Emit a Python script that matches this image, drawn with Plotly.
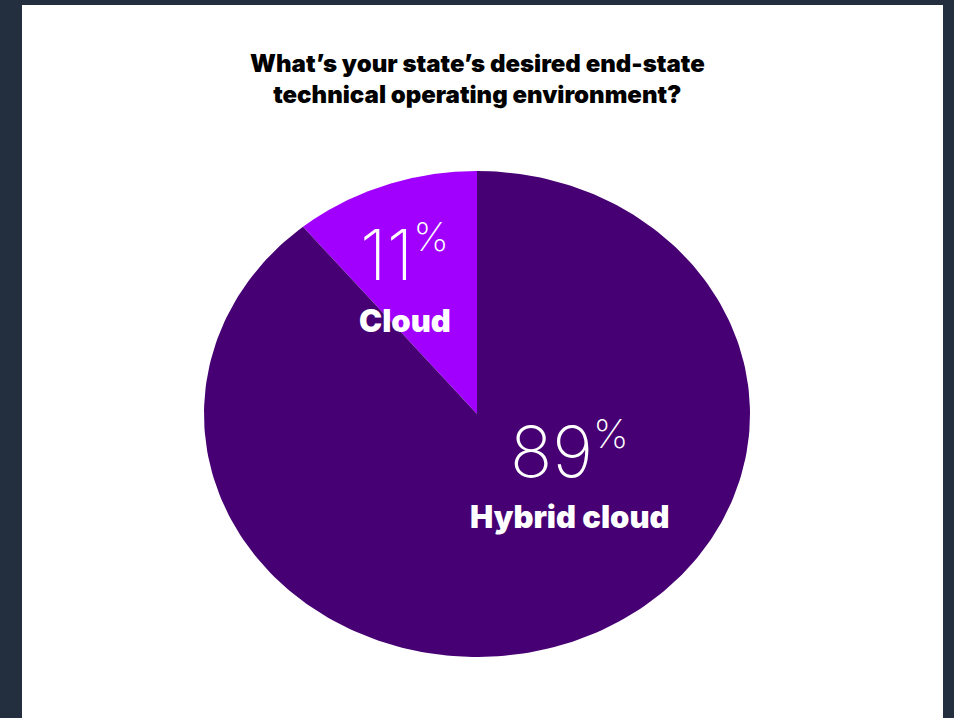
import numpy as np
import plotly.graph_objects as go

# Survey answers
segments = ["Cloud", "Hybrid cloud"]
shares = [11, 89]
colors = ["#A100FF", "#460073"]
title = "What’s your state’s desired end-state<br>technical operating environment?"

W, H = 954, 718
CX, CY, RX, RY = 477, 414, 273, 243  # pie centre and radii in pixels

fig = go.Figure()

# Wedges start at 12 o'clock and run counter-clockwise
start = 0.0
total = sum(shares)
for name, share, col in zip(segments, shares, colors):
    sweep = 360.0 * share / total
    ang = np.radians(np.linspace(start, start + sweep, 240))
    xs = np.concatenate([[0.0], -np.sin(ang), [0.0]])
    ys = np.concatenate([[0.0], np.cos(ang), [0.0]])
    fig.add_trace(go.Scatter(x=xs, y=ys, fill="toself", fillcolor=col,
                             mode="lines", line=dict(width=0, color=col),
                             name=name, hoverinfo="name", showlegend=False))
    start += sweep

# Label placement (axis units)
label_pos = {"Cloud": (-0.264, 0.655, 0.385), "Hybrid cloud": (0.34, -0.155, -0.42)}
for name, share in zip(segments, shares):
    x, yv, yn = label_pos[name]
    fig.add_annotation(x=x, y=yv, xref="x", yref="y", showarrow=False,
                       text=f"{share}<sup><span style='font-size:40px'>%</span></sup>",
                       font=dict(family="Inter", size=70, color="white", weight=200))
    fig.add_annotation(x=x, y=yn, xref="x", yref="y", showarrow=False,
                       text=name,
                       font=dict(family="Inter", size=31, color="white", weight=900))

fig.add_annotation(x=0.5, y=1 - 79 / H, xref="paper", yref="paper", showarrow=False,
                   text=title, align="center", yanchor="middle",
                   font=dict(family="Inter", size=24, color="#000000", weight=900))

# White card on the dark frame
fig.add_shape(type="rect", xref="paper", yref="paper",
              x0=22 / W, x1=943 / W, y0=0, y1=1 - 5 / H,
              fillcolor="white", line=dict(width=0), layer="below")

fig.update_xaxes(range=[-CX / RX, (W - CX) / RX], visible=False, fixedrange=True)
fig.update_yaxes(range=[-(H - CY) / RY, CY / RY], visible=False, fixedrange=True)
fig.update_layout(width=W, height=H, margin=dict(l=0, r=0, t=0, b=0),
                  paper_bgcolor="#232F3F", plot_bgcolor="rgba(0,0,0,0)")

fig.write_html("out.html")
